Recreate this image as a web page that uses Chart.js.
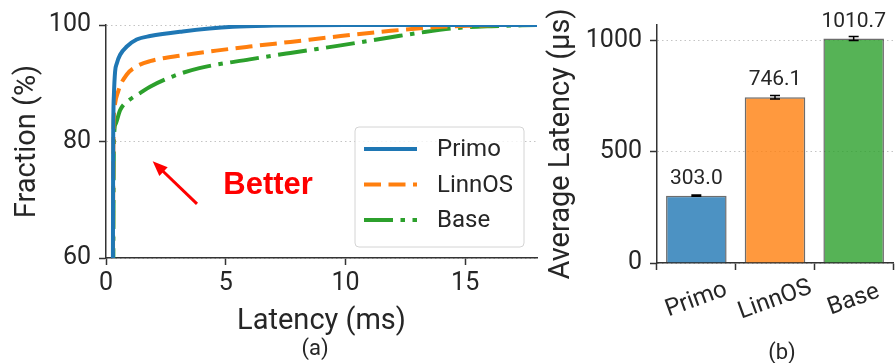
<!DOCTYPE html>
<html>
<head>
<meta charset="utf-8">
<script src="https://cdn.jsdelivr.net/npm/chart.js@4.4.1/dist/chart.umd.min.js"></script>
<style>
body{margin:0;background:#fff;width:895px;height:363px;position:relative;overflow:hidden;font-family:Roboto,sans-serif;color:#262626}
.box{position:absolute;top:0;height:363px}
.cap{position:absolute;font-size:22px;line-height:22px;transform:translate(-50%,-50%)}
</style>
</head>
<body>
<div class="box" style="left:0;width:545px"><canvas id="cdfChart" width="545" height="363"></canvas></div>
<div class="box" style="left:545px;width:350px"><canvas id="barChart" width="350" height="363"></canvas></div>
<div class="cap" style="left:315px;top:348px">(a)</div>
<div class="cap" style="left:782px;top:352px">(b)</div>
<script>
// CDF of latency (ms -> fraction %)
const primoX=[0.28,0.30,0.33,0.38,0.45,0.59,0.87,1.28,1.84,3.2,5.3,7,10,18];
const primoY=[40,80,88,92,93.4,94.9,96.3,97.5,98.1,98.9,99.7,99.9,100,100];
const linnosX=[0.28,0.31,0.35,0.51,0.87,1.28,1.84,3.2,4.6,6.0,7.7,9.8,11.9,14.0,15.4,16.5,18];
const linnosY=[40,80,85.5,88.6,91.5,92.9,93.8,94.8,95.6,96.3,97.1,98.1,99.0,99.7,99.9,100,100];
const baseX=[0.29,0.33,0.40,0.59,1.0,1.42,1.84,2.8,3.9,6.0,7.7,9.8,11.9,13.3,14.7,16.1,18];
const baseY=[40,80,83,85.4,87.2,88.3,89.4,91.2,92.6,94.1,95.2,96.5,97.9,98.8,99.5,99.8,100];
const cdfXTicks=[0,5,10,15];
const cdfYTicks=[60,80,100];

// average latency (us)
const systems=["Primo","LinnOS","Base"];
const avgLatency=[303.0,746.1,1010.7];
const avgErr=[3,8,9];
const barYTicks=[0,500,1000];

const blue="#1f77b4", orange="#ff7f0e", green="#2ca02c";
const txt="#262626", axisCol="#333";

function pts(xs,ys){
return xs.map((x,i)=>({x:x,y:ys[i]}));
}

function fixTicks(list){
return s=>{s.ticks=list.map(v=>({value:v}));};
}

const legendBox={
id:"legendBox",
afterDraw(chart){
const ctx=chart.ctx, a=chart.chartArea;
const w=169, h=120;
const x0=a.right-13-w, y0=a.bottom-11-h;
ctx.save();
ctx.beginPath();
ctx.roundRect(x0,y0,w,h,4);
ctx.fillStyle="rgba(255,255,255,0.8)";
ctx.fill();
ctx.strokeStyle="#d4d4d4";
ctx.lineWidth=1;
ctx.stroke();
chart.data.datasets.forEach((ds,i)=>{
const cy=y0+22+i*35.5;
ctx.beginPath();
ctx.setLineDash(ds.borderDash||[]);
ctx.lineCap="butt";
ctx.strokeStyle=ds.borderColor;
ctx.lineWidth=ds.borderWidth;
ctx.moveTo(x0+9,cy);
ctx.lineTo(x0+62,cy);
ctx.stroke();
ctx.setLineDash([]);
ctx.fillStyle=txt;
ctx.font="24px Roboto";
ctx.textBaseline="middle";
ctx.textAlign="left";
ctx.fillText(ds.label,x0+82,cy+1);
});
ctx.restore();
}
};

const betterNote={
id:"betterNote",
afterDraw(chart){
const ctx=chart.ctx, xs=chart.scales.x, ys=chart.scales.y;
const tx=xs.getPixelForValue(1.95), ty=ys.getPixelForValue(76.6);
const fx=xs.getPixelForValue(3.8), fy=ys.getPixelForValue(69.3);
const ang=Math.atan2(ty-fy,tx-fx);
ctx.save();
ctx.strokeStyle="red";
ctx.fillStyle="red";
ctx.lineWidth=3;
ctx.beginPath();
ctx.moveTo(fx,fy);
ctx.lineTo(tx-10*Math.cos(ang),ty-10*Math.sin(ang));
ctx.stroke();
ctx.beginPath();
ctx.moveTo(tx,ty);
ctx.lineTo(tx-15*Math.cos(ang)+6*Math.sin(ang),ty-15*Math.sin(ang)-6*Math.cos(ang));
ctx.lineTo(tx-15*Math.cos(ang)-6*Math.sin(ang),ty-15*Math.sin(ang)+6*Math.cos(ang));
ctx.closePath();
ctx.fill();
ctx.font="bold 31px 'Liberation Sans'";
ctx.textAlign="left";
ctx.textBaseline="alphabetic";
ctx.fillText("Better",xs.getPixelForValue(4.9),ys.getPixelForValue(71.0));
ctx.restore();
}
};

const cdfChart=new Chart(
document.getElementById("cdfChart"),
{
type:"line",
data:{
datasets:[
{label:"Primo",data:pts(primoX,primoY),borderColor:blue,borderWidth:4,borderDash:[]},
{label:"LinnOS",data:pts(linnosX,linnosY),borderColor:orange,borderWidth:4,borderDash:[17,7.5]},
{label:"Base",data:pts(baseX,baseY),borderColor:green,borderWidth:4,borderDash:[29,7.5,4.5,7.5]}
]
},
options:{
responsive:false,
animation:false,
layout:{padding:{top:25,right:8,left:0,bottom:0}},
elements:{point:{radius:0},line:{cubicInterpolationMode:"monotone",borderCapStyle:"butt"}},
plugins:{legend:{display:false},tooltip:{enabled:false}},
scales:{
x:{
type:"linear",min:0,max:18,
afterBuildTicks:fixTicks(cdfXTicks),
ticks:{maxRotation:0,padding:4,color:txt,font:{family:"Roboto",size:25},callback:v=>String(v)},
grid:{drawOnChartArea:false,tickLength:7,tickColor:axisCol,tickWidth:1.5},
border:{color:axisCol,width:1.5},
title:{display:true,text:"Latency (ms)",color:txt,font:{family:"Roboto",size:29,lineHeight:1},padding:{top:0,bottom:27}},
afterFit:s=>{s.height=105;}
},
y:{
min:60,max:100,
afterBuildTicks:fixTicks(cdfYTicks),
ticks:{padding:8,color:txt,font:{family:"Roboto",size:25},callback:v=>String(v)},
grid:{color:"#c4c4c4",lineWidth:1,tickLength:7,tickColor:axisCol,tickWidth:1.5},
border:{color:axisCol,width:1.5,dash:[1.5,3]},
title:{display:true,text:"Fraction (%)",color:txt,font:{family:"Roboto",size:29,lineHeight:1},padding:{top:13.5,bottom:0}},
afterFit:s=>{s.width=106;}
}
}
},
plugins:[legendBox,betterNote]
}
);

const barExtras={
id:"barExtras",
afterDatasetsDraw(chart){
const ctx=chart.ctx, ys=chart.scales.y, xs=chart.scales.x;
const meta=chart.getDatasetMeta(0);
ctx.save();
meta.data.forEach((bar,i)=>{
const v=avgLatency[i], e=avgErr[i];
const top=ys.getPixelForValue(v+e), bot=ys.getPixelForValue(v-e);
ctx.strokeStyle="#000";
ctx.lineWidth=1.5;
ctx.beginPath();
ctx.moveTo(bar.x,top);ctx.lineTo(bar.x,bot);
ctx.moveTo(bar.x-5,top);ctx.lineTo(bar.x+5,top);
ctx.moveTo(bar.x-5,bot);ctx.lineTo(bar.x+5,bot);
ctx.stroke();
ctx.fillStyle=txt;
ctx.font="21px Roboto";
ctx.textAlign="center";
ctx.textBaseline="middle";
ctx.fillText(v.toFixed(1),bar.x,ys.getPixelForValue(v)-17);
});
// rotated category labels, centred under each tick
chart.data.labels.forEach((lab,i)=>{
ctx.save();
ctx.translate(xs.getPixelForTick(i),xs.top+37);
ctx.rotate(-20*Math.PI/180);
ctx.fillStyle=txt;
ctx.font="24px Roboto";
ctx.textAlign="center";
ctx.textBaseline="middle";
ctx.fillText(lab,0,0);
ctx.restore();
});
ctx.restore();
}
};

const barChart=new Chart(
document.getElementById("barChart"),
{
type:"bar",
data:{
labels:systems,
datasets:[
{
label:"Average Latency",
data:avgLatency,
backgroundColor:["rgba(31,119,180,0.8)","rgba(255,127,14,0.8)","rgba(44,160,44,0.8)"],
borderColor:"rgba(60,60,60,0.75)",
borderWidth:1.5,
barPercentage:0.77,
categoryPercentage:1
}
]
},
options:{
responsive:false,
animation:false,
layout:{padding:{top:25,right:2,left:0,bottom:0}},
plugins:{legend:{display:false},tooltip:{enabled:false}},
scales:{
x:{
ticks:{display:false},
grid:{drawOnChartArea:false,tickLength:7,tickColor:axisCol,tickWidth:1.5},
border:{color:axisCol,width:1.5},
afterFit:s=>{s.height=100;}
},
y:{
min:0,max:1071,
afterBuildTicks:fixTicks(barYTicks),
ticks:{padding:8,color:txt,font:{family:"Roboto",size:25},callback:v=>String(v)},
grid:{color:"#c4c4c4",lineWidth:1,tickLength:7,tickColor:axisCol,tickWidth:1.5},
border:{color:axisCol,width:1.5,dash:[1.5,3]},
title:{display:true,text:"Average Latency (μs)",color:txt,font:{family:"Roboto",size:29,lineHeight:1},padding:{top:2.5,bottom:0}},
afterFit:s=>{s.width=112;}
}
}
},
plugins:[barExtras]
}
);
</script>
</body>
</html>
